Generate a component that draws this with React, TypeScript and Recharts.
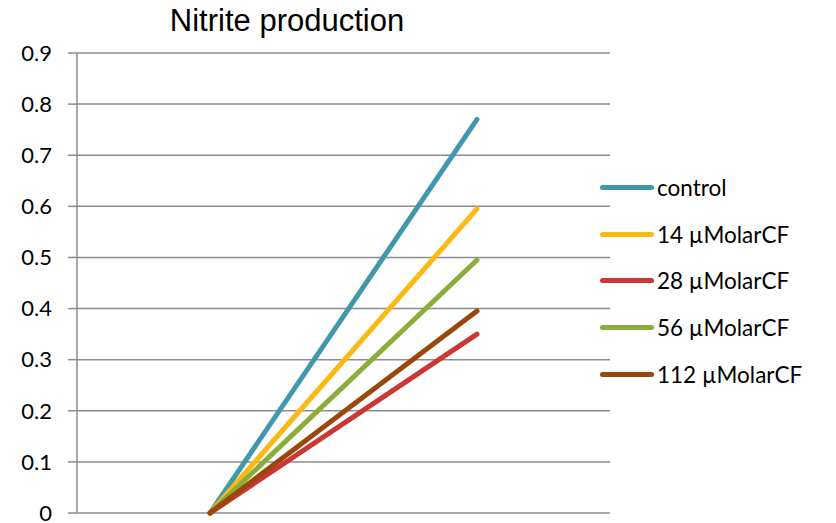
import { LineChart, Line, XAxis, YAxis, CartesianGrid } from "recharts";

// Nitrite production, two time points per treatment
const categories = ["start", "end"];
const control = [0, 0.77];
const cf14 = [0, 0.595];
const cf28 = [0, 0.35];
const cf56 = [0, 0.495];
const cf112 = [0, 0.395];
const yTicks = [0, 0.1, 0.2, 0.3, 0.4, 0.5, 0.6, 0.7, 0.8, 0.9];

const SERIES = [
  { key: "control", name: "control", values: control, color: "#4397AD" },
  { key: "cf14", name: "14 µMolarCF", values: cf14, color: "#FDB913" },
  { key: "cf28", name: "28 µMolarCF", values: cf28, color: "#CC3635" },
  { key: "cf56", name: "56 µMolarCF", values: cf56, color: "#8BAE3A" },
  { key: "cf112", name: "112 µMolarCF", values: cf112, color: "#9A470C" },
];

const data = categories.map((c, i) => {
  const row: Record<string, number | string> = { cat: c };
  SERIES.forEach((s) => {
    row[s.key] = s.values[i];
  });
  return row;
});

const FONT = "Lato, 'Open Sans', sans-serif";

function LegendBox() {
  return (
    <div
      style={{
        position: "absolute",
        left: 600,
        top: 164,
        fontFamily: FONT,
        fontSize: 22.5,
        color: "#000",
      }}
    >
      {SERIES.map((s) => (
        <div key={s.key} style={{ display: "flex", alignItems: "center", height: 46.8 }}>
          <span style={{ width: 54, height: 5, borderRadius: 3, background: s.color, marginRight: 3 }} />
          <span>{s.name}</span>
        </div>
      ))}
    </div>
  );
}

export default function App() {
  return (
    <div style={{ position: "absolute", left: 0, top: 0, width: 836, height: 523, background: "#fff" }}>
      <div
        style={{
          position: "absolute",
          left: 137,
          top: 3,
          width: 300,
          textAlign: "center",
          fontFamily: "'Liberation Sans', Arial, sans-serif",
          fontSize: 31,
          color: "#000",
        }}
      >
        Nitrite production
      </div>
      <LineChart width={836} height={523} data={data} margin={{ top: 53, right: 226, bottom: 10, left: 0 }}>
        <CartesianGrid stroke="#8c8c8c" strokeWidth={1.5} vertical={false} />
        <XAxis dataKey="cat" hide padding={{ left: 133, right: 133 }} />
        <YAxis
          domain={[0, 0.9]}
          ticks={yTicks}
          interval={0}
          width={77}
          tickSize={9}
          tickMargin={16}
          axisLine={{ stroke: "#8c8c8c", strokeWidth: 1.5 }}
          tickLine={{ stroke: "#8c8c8c", strokeWidth: 1.5 }}
          tick={{ fontFamily: FONT, fontSize: 22, fill: "#000" }}
          tickFormatter={(v: number) => (v === 0 ? "0" : v.toFixed(1))}
        />
        {SERIES.map((s) => (
          <Line
            key={s.key}
            dataKey={s.key}
            name={s.name}
            stroke={s.color}
            strokeWidth={5}
            strokeLinecap="round"
            dot={false}
            activeDot={false}
            type="linear"
            isAnimationActive={false}
          />
        ))}
      </LineChart>
      <LegendBox />
    </div>
  );
}
